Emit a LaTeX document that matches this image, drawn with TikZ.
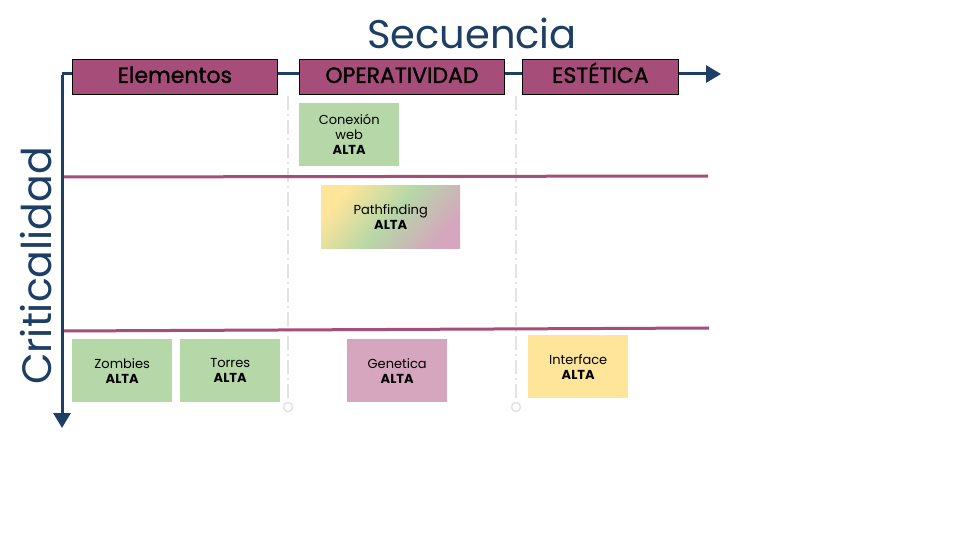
\documentclass[tikz,border=0pt]{standalone}
\usepackage{fontspec}
\setmainfont{Poppins}
\newfontfamily\headfont{Poppins}[FakeBold=1.3]
\usetikzlibrary{arrows.meta}

\definecolor{navy}{HTML}{1C3F63}
\definecolor{plum}{HTML}{A64D79}
\definecolor{sage}{HTML}{B6D7A8}
\definecolor{rose}{HTML}{D5A6BD}
\definecolor{butter}{HTML}{FFE599}
\definecolor{guide}{HTML}{E2E2E2}

\tikzset{
  axis/.style={draw=navy, line width=3, -{Triangle[length=15,width=17]}},
  header/.style={draw=black, fill=plum, line width=0.8, anchor=north west,
    minimum height=35, inner sep=0, text height=16, text depth=4,
    font=\headfont\fontsize{22}{26}\selectfont},
  card/.style={anchor=north west, minimum width=100, minimum height=63,
    inner sep=0, align=center, font=\fontsize{13}{15}\selectfont},
  level/.style={draw=plum, line width=3},
  lane/.style={draw=guide, line width=2, dash pattern=on 14 off 4 on 2 off 4}
}
\newcommand{\alta}{\\\textbf{ALTA}}

\begin{document}
\begin{tikzpicture}[x=1pt,y=-1pt]
    \useasboundingbox[fill=white] (0,0) rectangle (960,540);
    % lanes
    \draw[lane] (288,96) -- (288,402);
    \draw[lane] (516,96) -- (516,402);
    \draw[guide, line width=1.5, fill=white] (288,407) circle (4.5);
    \draw[guide, line width=1.5, fill=white] (516,407) circle (4.5);
    % levels
    \draw[level] (62,177) -- (708,176);
    \draw[level] (62,331) -- (709,328);
    % axes
    \coordinate (origin) at (62,74);
    \coordinate (xend) at (721,74);
    \coordinate (yend) at (62,428);
    \draw[axis] (origin) -- (xend);
    \draw[axis] ([yshift=-1.5]origin) -- (yend);
    \node[navy, font=\fontsize{40}{48}\selectfont] (secuencia) at (472,33) {Secuencia};
    \node[navy, rotate=90, font=\fontsize{41}{48}\selectfont] (criticalidad) at (36,266) {Criticalidad};
    % headers
    \node[header, minimum width=205] (elementos) at (72,59) {Elementos};
    \node[header, minimum width=205] (operatividad) at (299,59) {OPERATIVIDAD};
    \node[header, minimum width=156] (estetica) at (522,59) {ESTÉTICA};
    % cards
    \node[card, fill=sage] (conexion) at (299,103) {Conexión\\web\alta};
    \node[card, minimum width=139, left color=butter, right color=rose,
      middle color=sage, shading angle=50] (pathfinding) at (321,185) {Pathfinding\alta};
    \node[card, fill=sage] (zombies) at (72,339) {Zombies\alta};
    \node[card, fill=sage] (torres) at (180,339) {Torres\alta};
    \node[card, fill=rose] (genetica) at (347,339) {Genetica\alta};
    \node[card, fill=butter] (interface) at (528,335) {Interface\alta};
\end{tikzpicture}
\end{document}
